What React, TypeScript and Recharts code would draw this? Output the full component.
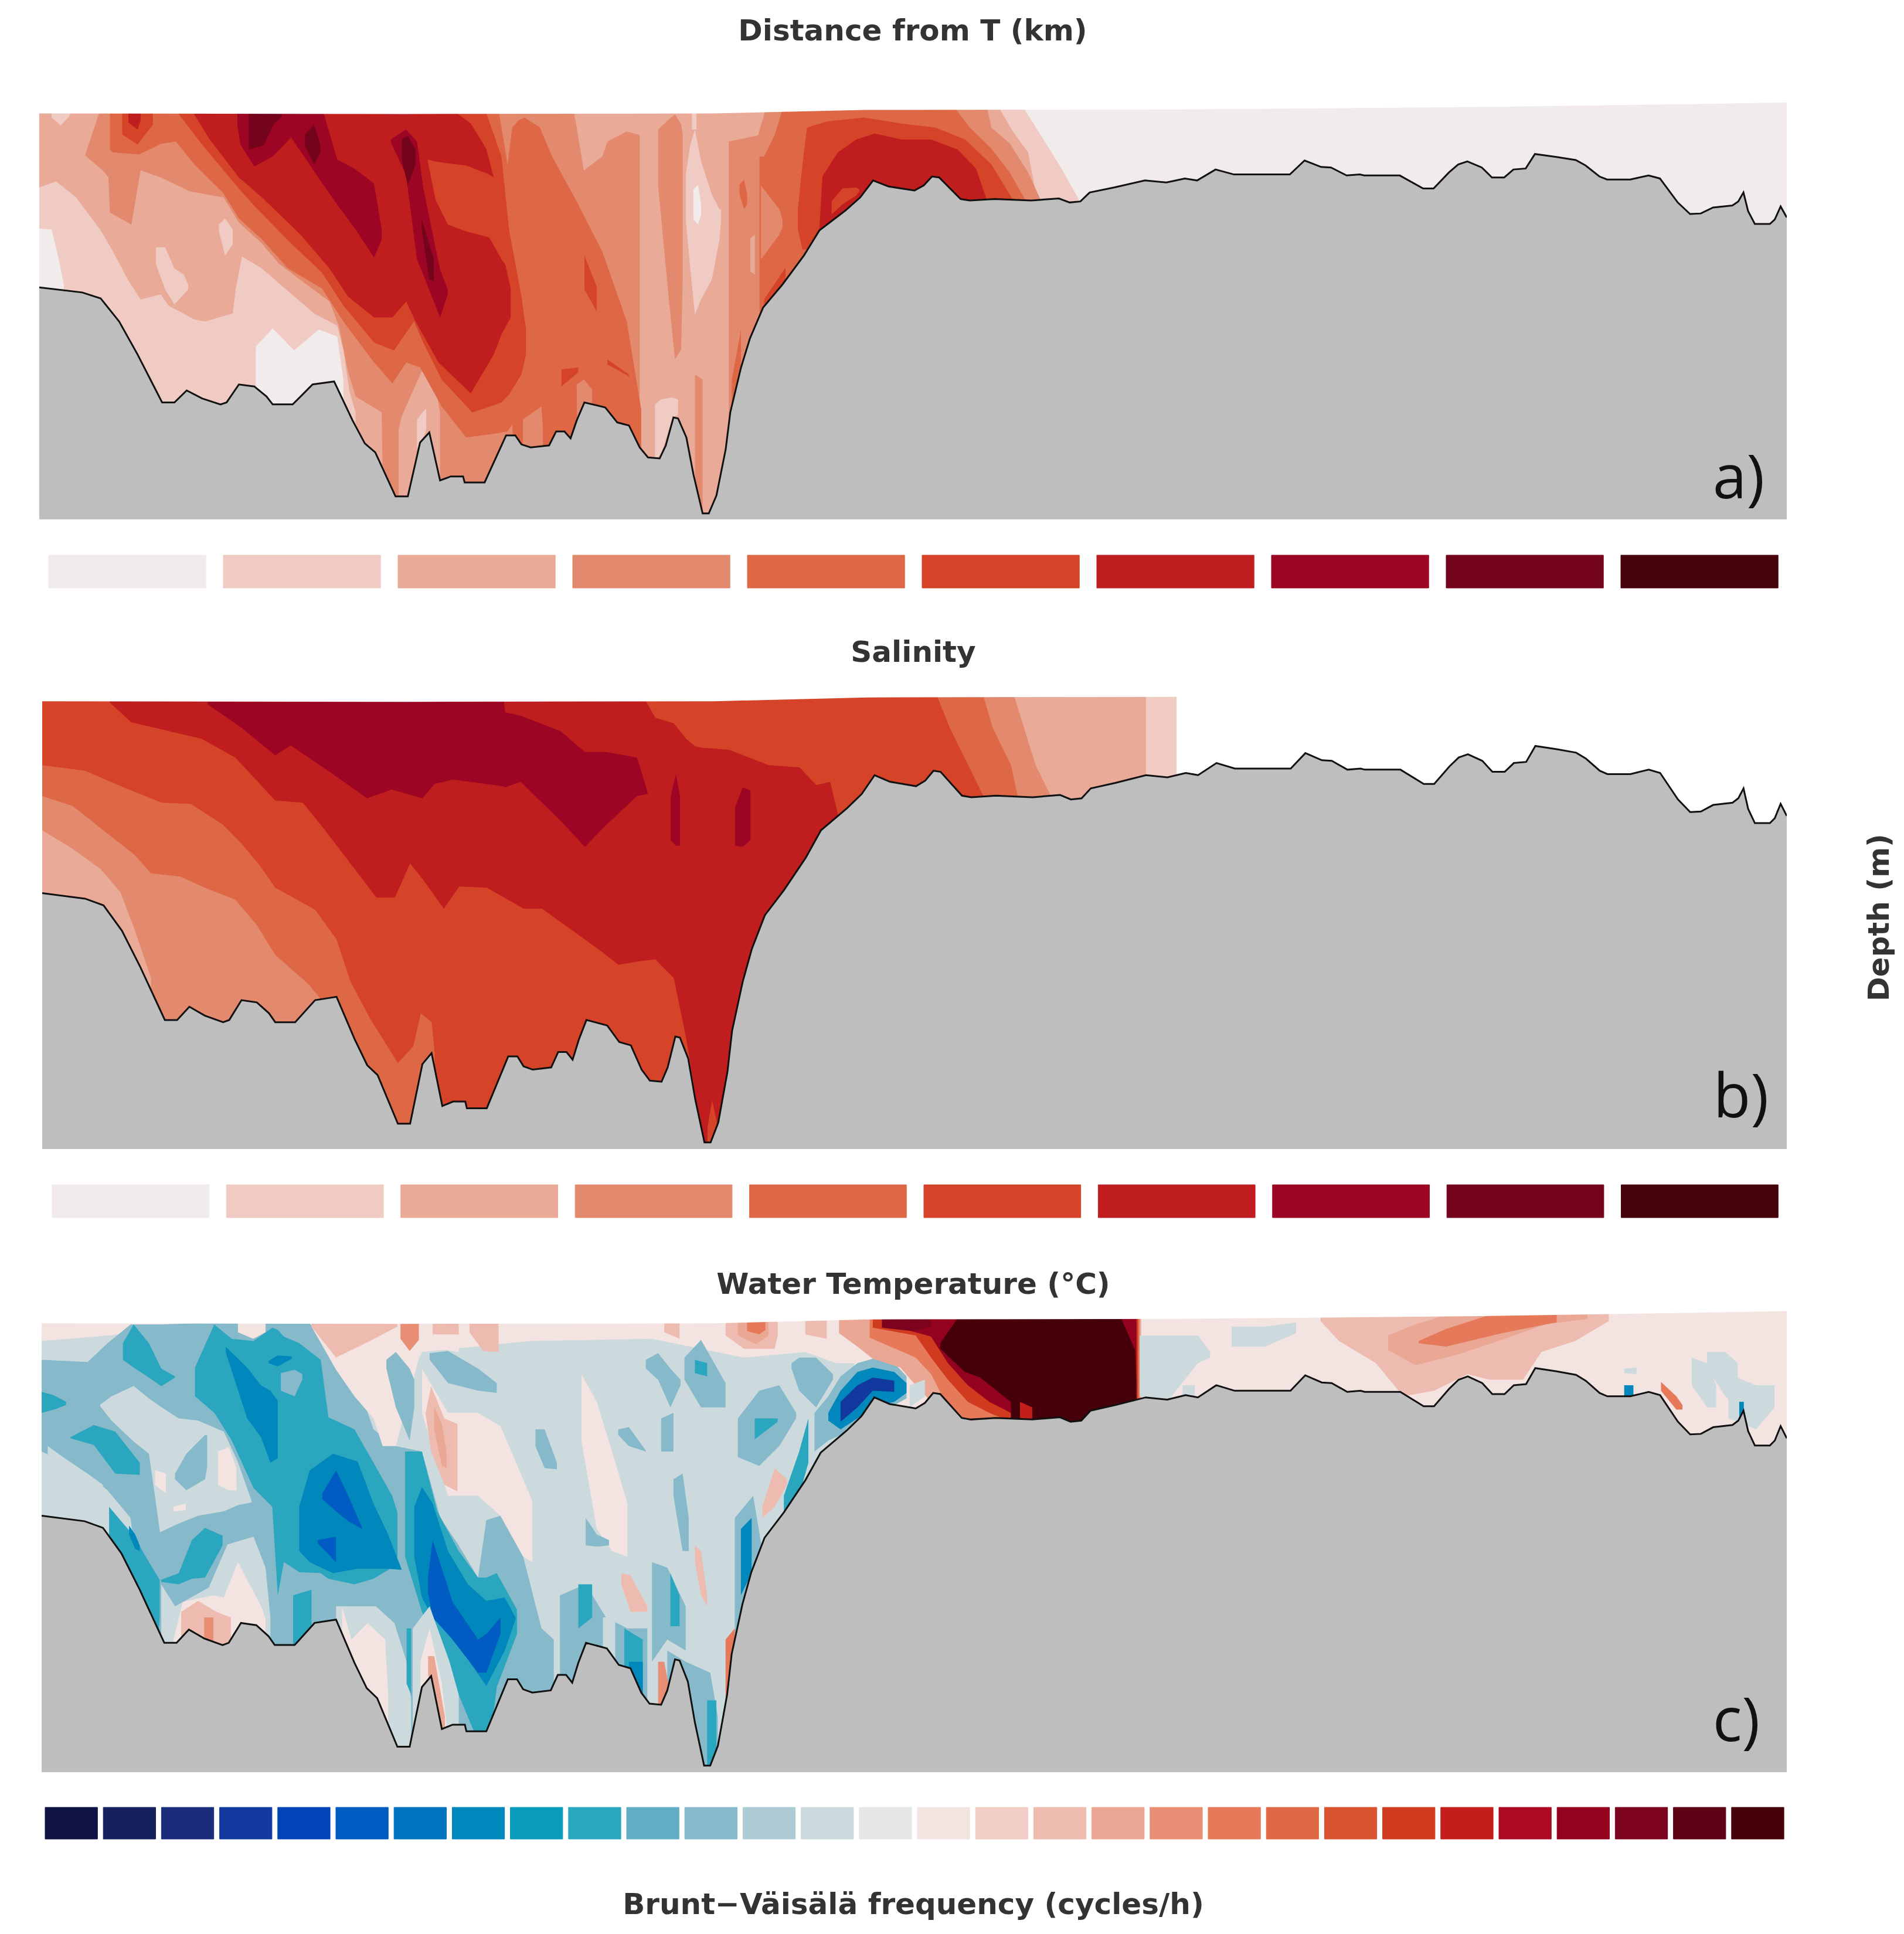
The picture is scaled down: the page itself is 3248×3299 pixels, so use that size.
import { Area, Bar, Cell, ComposedChart, Line, XAxis, YAxis } from 'recharts'

const FIG_W = 3248
const FIG_H = 3299
const PLOT_RIGHT = 3048
const KM_MAX = 56.9
const DEPTH_TOP = 2.1
const FONT = '"DejaVu Sans", sans-serif'
const INK = '#333333'
const FRAME = '#808080'
const SEABED = '#bebebe'

const KM_TICKS = [50, 40, 30, 20, 10, 0]
const DEPTH_TICKS = [0, -10, -20, -30, -40]

// section top (km, m)
const surface = [[56.9, 0.6], [45, 0.55], [35, 0.6], [30, 0.95], [20, 1.0], [10, 1.25], [3, 1.55], [0, 1.7]]

// seabed along the section (km, m)
const bathymetry = [
  [56.9, -16.8], [55.5, -17.3], [54.9, -17.9], [54.3, -20.2], [53.7, -23.5], [52.9, -28.3], [52.5, -28.3], [52.1, -27.1],
  [51.6, -27.9], [51, -28.5], [50.8, -28.3], [50.4, -26.5], [49.9, -26.7], [49.5, -27.7], [49.3, -28.5], [48.65, -28.5],
  [48, -26.5], [47.3, -26.2], [46.7, -30.1], [46.3, -32.4], [45.96, -33.3], [45.3, -37.7], [44.9, -37.7], [44.5, -32.3],
  [44.2, -31.3], [43.85, -36.1], [43.5, -35.7], [43.1, -35.7], [43.05, -36.3], [42.4, -36.3], [41.7, -31.6], [41.4, -31.6],
  [41.2, -32.5], [40.9, -32.8], [40.3, -32.6], [40.07, -31.2], [39.8, -31.2], [39.6, -31.9], [39.4, -30.1], [39.15, -28.3],
  [38.47, -28.8], [38.08, -30.3], [37.7, -30.6], [37.35, -32.8], [37.08, -33.8], [36.7, -33.9], [36.5, -32.6], [36.25, -29.8],
  [36.1, -29.9], [35.83, -31.8], [35.6, -35.5], [35.3, -39.4], [35.1, -39.4], [34.85, -37.6], [34.55, -33], [34.4, -29.3],
  [34.05, -24.8], [33.76, -21.9], [33.33, -18.8], [32.7, -16.5], [32, -13.6], [31.5, -11.1], [30.65, -9.1], [30.17, -7.8],
  [29.75, -6.1], [29.25, -6.7], [28.4, -7.1], [28.1, -6.6], [27.83, -5.7], [27.6, -5.8], [26.9, -7.96], [26.6, -8.1],
  [25.8, -7.96], [24.6, -8.1], [23.7, -7.9], [23.35, -8.3], [23, -8.2], [22.7, -7.3], [21.9, -6.8], [20.9, -6.1],
  [20.2, -6.3], [19.6, -5.9], [19.2, -6.1], [18.6, -5], [18, -5.5], [17, -5.5], [16.18, -5.5], [15.7, -4.1],
  [15.16, -4.75], [14.84, -4.8], [14.33, -5.6], [13.9, -5.5], [13.76, -5.6], [12.6, -5.6], [11.84, -6.9], [11.5, -6.9],
  [11, -5.3], [10.7, -4.5], [10.4, -4.2], [9.93, -4.8], [9.6, -5.8], [9.2, -5.8], [8.9, -5], [8.5, -4.9],
  [8.2, -3.45], [7.5, -3.75], [6.87, -4.06], [6.55, -4.6], [6.1, -5.7], [5.85, -6], [5.1, -6], [4.5, -5.6],
  [4.13, -5.9], [3.55, -8.3], [3.15, -9.45], [2.8, -9.4], [2.4, -8.8], [1.77, -8.6], [1.58, -8.2], [1.41, -7.3],
  [1.26, -9.15], [1.04, -10.45], [0.55, -10.45], [0.39, -10], [0.2, -8.7], [0, -9.8],
]

// colour steps of the two colour bars
const AMP = ['#f1eceb', '#efcbc4', '#e9aa98', '#e38a6e', '#de6846', '#d54428', '#c01d1e', '#9c0524', '#74041c', '#46030a']
const BALANCE = [
  '#0e1344', '#15205c', '#1a2d7a', '#123a9e', '#0044b8', '#005bc2', '#0073bf', '#0087bb', '#0a9abc', '#2aa6bf',
  '#63adc4', '#86b9ca', '#adcbd4', '#ccdade', '#e6e6e6', '#f3e4e1', '#f0cdc6', '#eebbb0', '#eaa794', '#e88e74',
  '#e6795a', '#df6945', '#d8532f', '#d03a1e', '#c21f1c', '#ac0a22', '#94021f', '#7c021d', '#600215', '#46000a',
]

const salinityBins = [0.1, 0.3, 0.5, 0.7, 0.9, 1.1, 1.3, 1.5, 1.7, 1.9]
const temperatureBins = [0.05, 0.15, 0.25, 0.35, 0.45, 0.55, 0.65, 0.75, 0.85, 0.95]
const buoyancyBins = [
  -14.5, -13.5, -12.5, -11.5, -10.5, -9.5, -8.5, -7.5, -6.5, -5.5, -4.5, -3.5, -2.5, -1.5, -0.5,
  0.5, 1.5, 2.5, 3.5, 4.5, 5.5, 6.5, 7.5, 8.5, 9.5, 10.5, 11.5, 12.5, 13.5, 14.5,
]

// Contour regions as [km, upper depth, lower depth]. Painted in order, seabed and air get masked afterwards.
const salBase = [[56.9, 2, -40], [23, 2, -40]]
const salL1Right = [[25.6, 2, 0.9], [25.2, 2, -1.2], [24.7, 2, -3.3], [24.4, 2, -8.3], [24.3, 2, -40], [0, 2, -40]]
const salL0Right = [[24.8, 2, 0.9], [24.2, 2, -2], [23.6, 2, -5], [23, 2, -8.3], [22.8, 2, -40], [0, 2, -40]]
const salL1Left = [
  [56.9, -6.8, -40], [56.35, -6.2, -40], [55.7, -7.8, -40], [54.9, -11.1, -40], [54.5, -13.2, -40], [54, -16.1, -40],
  [53.6, -18, -40], [52.94, -17.5, -40], [52.7, -18.6, -40], [51.85, -20, -40], [51.5, -20.2, -40], [50.6, -19.4, -40],
  [50.5, -16.9, -40], [50.3, -13.7, -40], [49.65, -14.9, -40], [48.9, -16.9, -40], [47.95, -19.4, -40], [47.2, -20.6, -40],
  [47, -23, -40], [46.8, -27.2, -40], [46.6, -29.3, -40],
]
const salL0Corner = [[56.9, -10.9, -17], [56.5, -11, -17], [56.3, -13.5, -17], [56.1, -16.5, -17]]
const salL0Pool = [[49.85, -22.7, -40], [49.3, -20.9, -40], [48.6, -23.1, -40], [47.8, -21, -40], [47.2, -21.7, -40], [47, -26, -40]]
const salL1PatchA = [[53.1, -12.8, -14.5], [52.8, -12.8, -17], [52.5, -14.9, -18.5], [52.2, -15.5, -17.5], [52.05, -16.5, -17]]
const salL1PatchB = [[51.05, -10.5, -11.2], [50.85, -9.9, -13.6], [50.6, -11, -12.5]]
const salL1PatchC = [[56.5, 2, 0.2], [56.2, 2, -0.6], [55.9, 2, 0.4]]
const salL3Main = [
  [55.4, -3.5, -3.6], [54.8, 2, -5.2], [54.65, 2, -5.8], [54.6, 2, -9.3], [53.9, 2, -10.5], [53.6, 2, -5.1], [52.94, 2, -5.8],
  [52, 2, -7.2], [50.9, 2, -7.8], [50.4, 2, -10.3], [49.65, 2, -12.4], [49.1, 2, -14.4], [48.55, 2, -15.7], [47.45, 2, -18.2],
  [47.15, 2, -20.6], [46.85, 2, -25.2], [46.6, 2, -27.7], [45.75, 2, -29.3], [45.7, 2, -40], [37.35, 2, -40],
]
const salL3Column = [[36.75, -1, -6.6], [36.4, 0, -18], [36.2, 0.5, -24], [36, -0.5, -23], [35.95, -1.5, -16]]
const salL2Spike = [[45.2, -31, -40], [45.1, -29.7, -40], [44.45, -25.2, -40], [44.1, -25.2, -40], [43.85, -29.3, -40]]
const salL1Spike = [[44.6, -30, -33], [44.35, -29, -31.5], [44.3, -29, -31]]
const salL4Main = [
  [54.6, 2, -3], [54.5, 2, -3.3], [53.65, 2, -3.5], [52.94, 2, -2.45], [52.45, 2, -2.2], [51.85, 2, -4.5], [50.9, 2, -7.4],
  [50.4, 2, -9.9], [49.65, 2, -12], [48.8, 2, -14.9], [47.7, 2, -16.9], [47, 2, -20.2], [46, 2, -24.3], [45.4, 2, -26.4],
  [44.95, 2, -24.3], [44.5, 2, -24.8], [43.8, 2, -28.7], [43, 2, -31.8], [42, 2, -31.4], [41.65, -4.5, -31.2], [41.5, -0.8, -30.5],
  [41.3, -0.1, -40], [41.1, 0.2, -40], [40.6, -0.8, -40], [40.2, -3.7, -40], [39.4, -8.2, -40], [38.57, -13.2, -40],
  [37.77, -20.2, -40], [37.3, -29, -40],
]
const salL2Cap = [[39.48, 2, 0.6], [39.17, 2, -5.1], [38.57, 2, -3.7], [38.4, 2, -2.2], [37.77, 2, -1.2], [37.3, 2, -1.6]]
const salL3Floor = [[41.15, -30, -40], [40.55, -28.7, -40], [40.5, -31, -40]]
const salL3Knob = [[39.4, -26.5, -40], [39.17, -26, -40], [38.9, -27, -40]]
const salL5Main = [
  [52.35, 2, 0.5], [51.6, 2, -2.5], [50.6, 2, -6.2], [49.9, 2, -8.65], [48.7, 2, -12.4], [47.7, 2, -15.3], [47, 2, -18.6],
  [46, 2, -22.3], [45.35, 2, -23.1], [44.7, 2, -20.2], [44.4, 2, -22.3], [43.8, 2, -26], [42.8, 2, -29.3], [42.5, 2, -29],
  [41.85, -3.7, -28.3], [41.6, -11.1, -27.5], [41.2, -17.7, -25.5], [41.05, -21, -23.5],
]
const salL5Dot = [[54.2, 2, -1.5], [53.7, 2, -2.5], [53.2, 2, -0.5]]
const salL6Dot = [[54, 2, -0.3], [53.7, 2, -1], [53.6, 2, -0.1]]
const salL6Main = [
  [51.85, 2, 0.5], [51.35, 2, -2], [50.4, 2, -5.8], [49.65, 2, -7.8], [48.4, 2, -11.5], [47.45, 2, -14.9], [46.85, 2, -17.7],
  [46, 2, -19.8], [45.4, 2, -19.8], [44.95, 2, -18.2], [44.65, 2, -20.2], [43.9, 2, -24.3], [42.85, -0.4, -27.4],
  [42.35, -2.9, -24.8], [42.1, -5.8, -23.5], [41.85, -12.8, -21.5], [41.55, -16.9, -19.8],
]
const salL5Wedge = [[44.25, -4, -4.2], [44, -4.2, -8], [43.6, -4.4, -10.5], [43, -4.6, -11.2], [42.25, -5.5, -11.8], [42.1, -5.8, -12.6], [41.85, -6, -14], [41.6, -11.1, -15], [41.5, -15, -16.5]]
const salL7Lobe = [
  [50.45, 2, -0.5], [50.35, 2, -2.5], [49.9, 2, -4.7], [49.3, 2, -3.7], [48.7, 2, -1.8], [48.1, 2, -4.5], [47.77, 2, -6],
  [47.2, -4, -8.5], [46.6, -5, -11], [46, -6.4, -13.8], [45.75, -11, -12],
]
const salL7Stripe = [[45.45, -2, -2.3], [44.96, -1, -5.5], [44.6, -2.2, -14], [44.4, -6.8, -15.5], [43.85, -15, -19.8], [43.6, -17, -17.5]]
const salL8Top = [[50.08, 2, -3], [49.6, 2, -2.6], [49.25, 2, -0.4], [49, 2, 0.3]]
const salL8Small = [[48.25, -1.5, -2.6], [47.95, -0.5, -4.5], [47.75, -2.5, -3.3]]
const salL8StripeA = [[45.1, -2, -4], [44.9, -1.6, -6.6], [44.65, -3, -4.5]]
const salL8StripeB = [[44.45, -9.9, -11], [44.2, -12.5, -16], [44.05, -14, -16.2]]
const salL5BitA = [[39.15, -13.6, -17], [38.75, -16.7, -19.2]]
const salL5BitB = [[39.9, -25, -26.7], [39.35, -24.8, -25.3]]
const salL5BitC = [[38.4, -24, -24.5], [37.7, -25.5, -25.7]]
const salL1Core = [[35.85, -5.5, -10], [35.7, -2.5, -15], [35.55, -1, -19.5], [35.35, -4.2, -18], [35, -7.5, -16], [34.75, -9, -12], [34.7, -9, -10]]
const salL1Tail = [[35.65, 2, -1], [35.5, 2, -1]]
const salL0Core = [[35.6, -7, -10], [35.45, -6.5, -10.5], [35.35, -8.5, -9.5]]
const salL1Floor = [[36.85, -28.5, -34], [36.65, -28, -33.5], [36.3, -27.8, -30], [36.1, -28, -29.5]]
const salL3Floor2 = [[35.55, -25.5, -40], [35.3, -26, -40]]
const salL3Sill = [[34.45, -2.2, -40], [33.5, -1.6, -40], [33.15, 2, -40], [26.1, 2, -40], [25.9, -0.8, -40], [25.3, -2.4, -40], [24.7, -5.3, -40], [24.3, -8, -40]]
const salL4Sill = [[33.45, -3.7, -40], [33.3, -3.7, -40], [32.95, -1.5, -40], [32.6, 2, -40], [27.3, 2, -40], [26.6, -0.8, -40], [25.9, -2.9, -40], [25.3, -5.3, -40], [24.8, -8, -40]]
const salL3Notch = [[33.4, -6.6, -14], [32.8, -9, -11.5], [32.7, -10, -10.8]]
const salL5Flank = [[33.3, -18, -18.5], [32.6, -14.8, -16.5]]
const salL5Sill = [[32.2, -9, -11], [32.05, -4.5, -13], [31.9, -0.8, -13], [31.26, -0.2, -40], [30.05, 0.2, -40], [28.83, -0.4, -40], [27.73, -0.8, -40], [26.75, -2, -40], [25.9, -4.5, -40], [25.2, -8, -40]]
const salL6Sill = [[31.5, -11, -40], [31.4, -5.7, -40], [30.9, -3.3, -40], [30.3, -2, -40], [29.7, -1.4, -40], [28.83, -2, -40], [27.85, -2, -40], [27, -3, -40], [26.4, -4.9, -40], [26.05, -8, -40]]
const salL5Hole = [[31.1, -8.2, -9.5], [30.75, -6.9, -8.5], [30.3, -6.8, -7.6], [30.2, -7, -7.2]]
const salL2Pocket = [[33.75, -11.9, -15.2], [33.6, -11.5, -15.5]]
const salL4Fleck = [[34.1, -6.5, -7.5], [33.95, -6, -9], [33.85, -7.5, -8.5]]
const salL4Sliver = [[34.35, -26, -40], [34.05, -21, -24]]

const salinityLayers = [
  [salBase, 2], [salL1Right, 1], [salL0Right, 0], [salL1Left, 1], [salL0Corner, 0], [salL0Pool, 0], [salL1PatchA, 1], [salL1PatchB, 1],
  [salL1PatchC, 1], [salL3Main, 3], [salL3Column, 3], [salL2Spike, 2], [salL1Spike, 1], [salL4Main, 4], [salL2Cap, 2], [salL3Floor, 3],
  [salL3Knob, 3], [salL5Main, 5], [salL5Dot, 5], [salL6Dot, 6], [salL6Main, 6], [salL5Wedge, 5], [salL7Lobe, 7], [salL7Stripe, 7],
  [salL8Top, 8], [salL8Small, 8], [salL8StripeA, 8], [salL8StripeB, 8], [salL5BitA, 5], [salL5BitB, 5], [salL5BitC, 5], [salL1Core, 1],
  [salL1Tail, 1], [salL0Core, 0], [salL1Floor, 1], [salL3Floor2, 3], [salL3Sill, 3], [salL4Sill, 4], [salL3Notch, 3], [salL5Flank, 5],
  [salL5Sill, 5], [salL6Sill, 6], [salL5Hole, 5], [salL2Pocket, 2], [salL4Fleck, 4], [salL4Sliver, 4],
]

const tmpL1 = [[56.9, 2, -40], [19.9, 2, -40]]
const tmpL2 = [[56.9, 2, -40], [20.9, 2, -40]]
const tmpL3 = [[56.9, 2, -40], [25.3, 2, -40], [24.5, -5.2, -40], [24, -8, -40]]
const tmpL4 = [[56.9, 2, -40], [26.3, 2, -40], [25.9, -1.8, -40], [25.3, -5.2, -40], [25.07, -8.2, -40]]
const tmpL5 = [[56.9, 2, -40], [27.85, 2, -40], [27.3, -1.8, -40], [26.7, -5.2, -40], [26.2, -8, -40]]
const tmpL4Low = [
  [56.9, -5.2, -40], [55.5, -5.7, -40], [54.25, -7.2, -40], [53, -8.6, -40], [52.05, -8.7, -40], [51, -10.6, -40], [50.4, -12.3, -40],
  [49.8, -14.3, -40], [49.3, -16.3, -40], [48, -18.3, -40], [47.3, -21, -40], [46.85, -24.8, -40], [46.2, -28.2, -40], [45.3, -32.2, -40],
  [44.8, -30.7, -40], [44.55, -27.7, -40], [44.2, -28.5, -40], [44.1, -31.2, -40],
]
const tmpL3Low = [
  [56.9, -8, -40], [55.9, -8.9, -40], [55, -10.9, -40], [53.9, -13.3, -40], [53.35, -15, -40], [52.4, -15.3, -40], [51.6, -16.3, -40],
  [50.6, -17.4, -40], [49.9, -19.7, -40], [49.3, -22.4, -40], [48.6, -24.1, -40], [48.2, -25.1, -40], [47.85, -26.3, -40],
]
const tmpL2Low = [[56.9, -11.1, -40], [55.9, -12.8, -40], [55, -14.6, -40], [54.35, -16.7, -40], [53.9, -20, -40], [53.35, -24.5, -40]]
const tmpL6 = [
  [54.7, 2, 0.5], [54, 2, -1.3], [53, 2, -1.95], [51.7, 2, -2.8], [50.6, 2, -4.5], [49.3, 2, -8.4], [48.4, 2, -8.6], [47.7, 2, -11],
  [46.6, 2, -15], [46, 2, -17.2], [45.4, 2, -17.2], [44.9, 2, -14.1], [44.5, 2, -15.5], [43.8, 2, -18.2], [43.3, 2, -16.2], [42.4, 2, -16.3],
  [41.2, 2, -18.2], [40.6, 2, -18.2], [39.6, 2, -20.2], [38.7, 2, -22], [38.1, 2, -23.3], [37.5, 2, -23], [36.9, -0.9, -22.8],
  [36.3, -1.4, -24.5], [35.9, -2.8, -29.9], [35.6, -3.5, -35], [35.4, -3.6, -40], [34.5, -3.8, -40], [33.2, -5.2, -40], [32.2, -5.4, -40],
  [31.65, -7, -40], [31.2, -6.7, -40], [30.95, -9.6, -40],
]
const tmpL7 = [
  [51.5, 2, 0.3], [50.4, 2, -1.8], [49.3, 2, -4.3], [48.8, 2, -3.4], [47.5, 2, -5.85], [46.3, 2, -8.2], [45.5, 2, -7.4], [44.5, 2, -8.2],
  [44.1, 2, -6.9], [43.5, 2, -6.5], [41.9, 2, -7.1], [41.8, -0.4, -7.2], [41.3, -0.7, -6.7], [40, -2.1, -10.2], [39.2, -4, -12.6],
  [38.5, -4, -10.6], [37.5, -4.5, -8], [37.15, -7.7, -7.8],
]
const tmpL7StripeA = [[36.4, -8, -12], [36.23, -6, -12.5], [36.1, -8, -12.5]]
const tmpL7StripeB = [[34.3, -9, -12.5], [34.05, -7.2, -12.6], [33.8, -7.5, -12]]
const tmpL5Pit = [[35.2, -38, -40], [35.05, -35.6, -40], [34.9, -37.5, -40]]

const temperatureLayers = [
  [tmpL1, 1], [tmpL2, 2], [tmpL3, 3], [tmpL4, 4], [tmpL5, 5], [tmpL4Low, 4], [tmpL3Low, 3], [tmpL2Low, 2],
  [tmpL6, 6], [tmpL7, 7], [tmpL7StripeA, 7], [tmpL7StripeB, 7], [tmpL5Pit, 5],
]

const bvPaleBase = [[56.9, 2, -40], [0, 2, -40]]
const bvHaze = [
  [56.9, -1, -40], [50, 0.6, -40], [48, -0.2, -40], [47, -2, -40], [45, -5, -40], [44.5, -2, -40], [41, -1, -40], [37, -0.8, -40],
  [34, -2.5, -40], [32, -2, -40], [31, -3, -40], [30.4, -3, -40],
]
const bvBlueWide = [
  [56.9, -2.7, -11], [55.4, -2.9, -13], [54.75, -1.2, -14.5], [54, 0.5, -17], [53, 0.5, -40], [48.3, 1, -40], [47.55, -1.2, -40],
  [46.7, -4, -40], [46.08, -9, -40], [45.35, -10.5, -40], [44.5, -11, -40], [43.9, -17, -40], [43.3, -19.5, -40], [42.67, -22.4, -40],
  [42.4, -17.2, -40], [41.94, -16.8, -40], [41.2, -20.5, -40], [40.6, -27, -40], [40.2, -28, -40],
]
const bvHoleLeft = [
  [54.99, -6.75, -6.9], [54.62, -6, -8.2], [53.9, -5.07, -10.1], [53.4, -6.2, -11.2], [53.04, -6.9, -18.3], [52.43, -8, -17.5],
  [51.8, -8.2, -16.8], [50.96, -9.2, -16.4], [50.5, -11.95, -15.85], [50.05, -15.5, -15.6],
]
const bvInHole = [[52.55, -13, -13.5], [52.18, -11.2, -14.5], [51.57, -9.5, -13.5], [51.5, -9.5, -12.3]]
const bvPinkA = [[51.15, -11, -14], [50.8, -10.6, -14.5], [50.55, -12.5, -14.5]]
const bvPinkB = [[53.2, -12.7, -14], [52.85, -13, -14.8]]
const bvPinkC = [[52.6, -16, -16.4], [52.2, -15.7, -16.3]]
const bvCornerPale = [[56.7, -10.5, -14], [56.2, -11.5, -17], [55.3, -13.2, -17.5], [54.9, -14, -16]]
const bvStrongA = [[54.25, -1.2, -2.7], [53.9, 0.5, -3.4], [53.4, -1.2, -4.3], [53, -3.5, -5.1], [52.55, -4.2, -4.3]]
const bvStrongB = [[56.9, -5.6, -7.5], [56.5, -5.9, -7.2], [56.1, -6.5, -6.8]]
const bvStrongC = [[55.96, -9.7, -9.8], [55.2, -8.6, -10.4], [54.5, -9.2, -13], [53.7, -12, -13.1]]
const bvStrongEdge = [[54.7, -16, -40], [54.3, -17.3, -40], [53.9, -18.6, -40], [53.4, -21, -40], [53.05, -22.6, -26]]
const bvDeepFleck = [[54.05, -17.7, -18.5], [53.85, -18.5, -19.8], [53.7, -19.5, -20]]
const bvStrongD = [[53, -22.6, -22.8], [52.43, -22, -23], [52, -19, -22.5], [51.57, -17.9, -22.4], [51, -18.6, -19.5]]
const bvLowHaze = [[53, -23, -40], [52.55, -25, -40], [51.45, -23.3, -40], [50.84, -19.4, -40], [49.99, -18.7, -40], [49.6, -21.5, -40], [49.44, -26, -40]]
const bvLowPale = [[52.6, -28, -40], [52.3, -24.6, -40], [51.3, -24, -40], [50.96, -24.2, -40], [50.5, -21, -40], [49.74, -25, -40], [49.6, -26.1, -28]]
const bvLowPink = [[52.35, -25.5, -40], [51.8, -24.5, -40], [51.2, -25.5, -40], [50.73, -26, -40]]
const bvLowCore = [[51.6, -26, -40], [51.3, -26, -40]]
const bvMidStrong = [
  [51.9, -3.4, -6], [51.27, 0.5, -7.5], [50.7, -0.8, -10], [49.99, -1, -14.3], [49.38, 0.2, -16], [49.2, 0, -24], [49, -0.6, -21],
  [48.5, -1.2, -21.9], [47.8, -2.7, -22], [47.55, -7.9, -22.5], [46.7, -9, -23], [46.08, -12, -22.5], [45.47, -15, -21.5], [45.3, -16.5, -20.5],
]
const bvMidStem = [[48.7, -24, -40], [48.1, -23.5, -40]]
const bvMidHole = [[49.1, -3.9, -5.5], [48.65, -3.6, -6], [48.4, -4, -4.5]]
const bvPaleTop = [[50.5, 2, -0.2], [50, 2, -0.8], [49.6, 2, -0.2]]
const bvDeepA = [[50.9, -1.5, -2], [50.2, -3.4, -8], [49.75, -5, -9.7], [49.44, -5.5, -12], [49.2, -6.4, -11.6]]
const bvDeepB = [[49.5, -2.8, -3], [49.2, -2.3, -3.3], [48.75, -2.4, -2.6]]
const bvDeepC = [[48.5, -16, -20], [48.16, -12.7, -21], [47.4, -11.2, -22], [46.6, -11.9, -21.6], [46.08, -15.7, -21.6], [45.6, -18.5, -21.6], [45.17, -21.6, -21.7]]
const bvCoreA = [[47.75, -14.8, -15.3], [47.3, -12.7, -16.4], [46.9, -15, -17.3], [46.45, -17.9, -18]]
const bvCoreB = [[47.9, -19, -19.3], [47.3, -18.7, -21]]
const bvHazeLow = [[47.3, -25, -40], [46.6, -25, -40], [46, -25, -40], [45.4, -26.5, -40], [45, -30, -40], [44.85, -33.5, -40]]
const bvPaleLow = [[47.1, -25, -40], [46.8, -28, -40], [46.27, -26.5, -40], [45.7, -28, -40], [45.6, -33, -40]]
const bvBandStrong = [[45.05, -11, -20.5], [44.5, -11, -25.5], [44, -16.4, -28.3], [43.3, -20, -33], [42.67, -22.4, -37.2], [42.4, -22.4, -40], [42.06, -22, -32.3], [41.4, -25.3, -27.5]]
const bvBandDeep = [[44.75, -16, -20.5], [44.5, -14.2, -24.2], [44.15, -15.7, -26], [43.65, -20, -27.5], [43, -23, -29.8], [42.4, -24.5, -32.2], [41.8, -24.2, -29], [41.45, -26, -26.2]]
const bvBandCore = [[44.3, -22.3, -23.8], [44.15, -19, -26], [43.5, -24.6, -28], [42.67, -28, -31], [42.4, -27.5, -31], [41.94, -26, -27.5]]
const bvThinStrong = [[45, -27, -32], [44.85, -27, -33]]
const bvSpikeHaze = [[44.8, -27, -40], [44.25, -25, -40], [43.6, -30, -40], [43.3, -33, -40]]
const bvSpikePale = [[44.55, -30, -40], [44.25, -27, -40], [43.85, -32, -40], [43.6, -38, -40]]
const bvSpikePink = [[44.3, -29.5, -31], [44.1, -29.5, -36], [43.75, -35, -37]]
const bvPaleCentre = [[44.5, -3.5, -7.5], [43.65, -7.5, -15], [42.67, -7.5, -15], [41.94, -8.7, -16.8], [41.2, -13.5, -20.5], [40.9, -15.5, -21]]
const bvPinkDiag = [[44.38, -7.5, -7.6], [44.2, -5.1, -11], [43.77, -8, -14], [43.34, -8.5, -14.6]]
const bvPinkDiagCore = [[44.1, -7, -9], [43.85, -8.5, -12.3], [43.7, -11, -12.5]]
const bvPaleUpper = [[48.1, 2, 0.3], [47.3, 2, -3.6], [46.7, 2, -6], [46.08, 2, -8], [45.78, 2, -10.5], [45.35, 2, -10.5], [44.5, 2, -1.5], [43.3, 2, -2]]
const bvPinkTop = [[48.1, 2, 0.3], [47.3, 2, -2.5], [46.2, 2, -1], [45.3, 2, 0.3]]
const bvBlueUpper = [[45.66, -2.7, -3.5], [45.35, -2, -7], [44.9, -3.5, -10], [44.75, -4.5, -7]]
const bvPeachTop = [[45.2, 2, -0.8], [44.9, 2, -1.9], [44.6, 2, -0.9]]
const bvPinkBitA = [[44.15, 2, -0.4], [43.3, 2, -0.4]]
const bvPinkBitB = [[42.95, 2, -0.2], [42.5, 2, -1.9], [42, 2, -2]]
const bvBlueBitA = [[44.25, -2.1, -2.7], [43.65, -1.9, -4.8], [42.67, -3.5, -5.5], [42.06, -4.8, -5.7]]
const bvBlueBitB = [[40.8, -9, -10.5], [40.5, -9, -12.5], [40.1, -12, -12.6]]
const bvBlueRight = [[40, -24, -40], [39.16, -23, -40], [38.5, -26, -40], [37.8, -27, -40], [37.15, -27, -40]]
const bvHazeStripe = [[38.6, -26, -40], [38.2, -26, -40]]
const bvStrongRight = [[37.9, -27, -34], [37.3, -28, -34]]
const bvDeepRight = [[37.75, -30, -34], [37.3, -30, -34]]
const bvStrongFlank = [[39.4, -23, -27], [38.95, -23, -26]]
const bvPaleLeftTall = [[39.3, -4, -10], [38.8, -6.5, -18], [38.3, -11, -20], [37.8, -15.7, -20.5]]
const bvPinkRight = [[38, -22, -23], [37.7, -22.2, -25.5], [37.15, -25, -25.5]]
const bvBlueC = [[37.2, -2.7, -3.5], [36.8, -2.1, -4.5], [36.4, -3.5, -7], [36.07, -4.5, -5]]
const bvBlueD = [[36.7, -8, -11], [36.3, -7.5, -11]]
const bvBlueE = [[38.1, -9, -9.5], [37.75, -8.8, -10.5], [37.2, -10.9, -11]]
const bvBlueF = [[39.16, -17, -19.5], [38.8, -18.5, -19.6], [38.4, -19, -19.5]]
const bvBlueG = [[35.94, -2.5, -4.5], [35.4, -0.9, -7], [34.6, -4.8, -7]]
const bvStrongG = [[35.6, -2.7, -3.9], [35.2, -3, -4.2]]
const bvBlueH = [[34.2, -8, -11.5], [33.5, -5.5, -12.3], [32.85, -5, -10.5], [32.3, -7.5, -8]]
const bvStrongH = [[33.65, -8, -9.9], [32.9, -8, -8.3]]
const bvBlueI = [[32.45, -3, -3.5], [32.2, -2.5, -5.5], [31.65, -2.5, -7], [31.1, -4, -4.5]]
const bvBlueJ = [[36.3, -13.5, -15], [36, -13, -20], [35.8, -17, -20]]
const bvBlueK = [[37, -21, -30], [36.5, -21.5, -28], [35.9, -25, -29]]
const bvStrongK = [[36.4, -22, -26.8], [36.1, -24, -26.8]]
const bvPeachPit = [[36.8, -30, -40], [36.6, -30, -40], [36.4, -33, -40]]
const bvBluePit = [[36.5, -29, -40], [35.9, -30, -40], [35.1, -31, -40], [34.85, -35, -40]]
const bvStrongPit = [[35.2, -33.5, -40], [34.9, -33.5, -40]]
const bvPinkStrip = [[35.6, -19.5, -21], [35.4, -20, -24], [35.2, -24, -25]]
const bvPeachWall = [[34.6, -28, -40], [34.3, -27, -40]]
const bvBlueWall = [[34.3, -17, -28], [33.7, -15, -24], [33.4, -20, -22]]
const bvDeepWall = [[34.1, -18, -24], [33.75, -17, -22]]
const bvStrongSlope = [[32.7, -15, -17], [32.2, -11, -15], [31.9, -8, -12]]
const bvPinkSlope = [[33.4, -16, -17], [33, -12.5, -16], [32.6, -13.5, -14]]
const bvCellHaze = [[31.7, -7.5, -11], [31.25, -6, -10], [30.85, -4.2, -9.5], [30.3, -3, -8.5], [29.8, -2.6, -7], [29.1, -3, -6.8], [28.7, -4.2, -6.2]]
const bvCellStrong = [[31.25, -7.5, -8.2], [30.85, -5.5, -9], [30.3, -3.8, -8], [29.8, -3.4, -7], [29.1, -3.8, -6.5], [28.7, -4.8, -5.7]]
const bvCellCore = [[30.85, -6.5, -8.3], [30.3, -5, -7], [29.8, -4.3, -5.5], [29.1, -4.6, -5.6]]
const bvCapOuter = [[34.6, 2, -0.5], [34, 2, -1.7], [33, 2, -1.7], [32.9, 2, -0.5]]
const bvCapMid = [[34.2, 2, -0.5], [33.6, 2, -1.3], [33.2, 2, -0.5]]
const bvCapCore = [[33.9, 2, -0.1], [33.5, 2, -0.4], [33.3, 2, 0]]
const bvCapSmall = [[32, 2, -0.4], [31.3, 2, -0.8]]
const bvCapThin = [[36.6, 2, -0.2], [36.1, 2, -0.8]]
const bvCloudPink = [[30.9, 2, -0.3], [30.3, 2, -1.5], [29.8, 2, -2.6], [28.9, 2, -3.4], [28.4, 2, -5], [27.9, 2, -6.5], [27.4, 2, -40], [21.05, 2, -40]]
const bvCloudSalmon = [[29.9, 2, -0.7], [28.4, 2, -2.5], [27.9, 2, -4], [27.35, 2, -7], [26.8, 2, -40], [21.1, 2, -40]]
const bvCloudRed = [[29.8, 2, 0.2], [28.4, 2, -0.5], [27.9, 2, -2.5], [27.35, 2, -4.5], [26.7, 2, -6.5], [26, 2, -7.5], [25.3, 2, -8.3], [21.15, 2, -40]]
const bvCloudCrimson = [[28.8, 2, 0.1], [27.9, 2, -0.6], [27.35, 2, -3], [26.7, 2, -5], [26, 2, -6.5], [25.3, 2, -7.5], [25, 2, -40], [21.2, 2, -40]]
const bvCloudTop = [[29.5, 2, 0.2], [28.5, 2, -0.1], [27.9, 2, 0.3]]
const bvCloudDark = [[27.6, -1.2, -1.7], [26.8, 2, -3.8], [26.3, 2, -4.3], [25.3, 2, -6.5], [25.07, 2, -40], [23, 2, -40], [21.85, 2, -40], [21.25, -1.8, -40], [21.2, -5, -6.2]]
const bvSillHaze = [[28.6, -5, -7], [28.1, -4.5, -6]]
const bvRedFleck = [[25, -6.5, -9], [24.6, -7, -9]]
const bvHazeA = [[21.1, -0.5, -6], [20.2, -0.5, -6.5], [19.2, -0.5, -3], [18.8, -2, -2.5]]
const bvHazeB = [[18.1, 0.3, -1.5], [17, 0.3, -1.5], [16, 0.7, -0.3]]
const bvWarmPink = [[15.2, 1.7, 0.8], [14.6, 1.7, -1], [13.4, 1.7, -3], [12.5, 1.7, -6], [11.5, 1.7, -5.5], [10.4, 1.7, -4], [9.7, 1.7, -4.5], [8.6, 1.7, -4.5], [8, 1.7, -2], [6.9, 1.7, -1], [5.8, 1.7, 0.8]]
const bvWarmMid = [[13, -0.5, -1.8], [12.1, 0.5, -3.2], [10.7, 1.7, -2.2], [9.4, 1.7, -1], [7.9, 1.7, 0.5], [6.5, 1.7, 1]]
const bvWarmCore = [[12, -1, -1.2], [11.1, 0.1, -1.5], [9.3, 1.7, -0.3], [7.5, 1.7, 0.7]]
const bvSpeckA = [[3.1, -2.5, -5], [2.6, -3, -7], [2.3, -5, -7]]
const bvSpeckB = [[2.6, -2, -3.5], [2, -2, -6], [1.6, -3, -7]]
const bvSpeckC = [[1.9, -4, -8], [1, -5, -9], [0.4, -5, -7]]
const bvSpeckD = [[5.3, -3.5, -3.9], [4.9, -3.4, -4]]
const bvSpotA = [[5.3, -5, -6], [5, -5, -6]]
const bvSpotB = [[1.55, -6.5, -8.5], [1.4, -6.5, -8.5]]
const bvSpeckRed = [[4.1, -4.7, -5.5], [3.6, -6, -7.2], [3.4, -6.8, -7.2]]
const bvEdgeN = [[19.7, -5, -7], [19.3, -5, -7]]

const buoyancyLayers = [
  [bvPaleBase, 15], [bvHaze, 13], [bvBlueWide, 11], [bvHoleLeft, 13], [bvInHole, 11], [bvPinkA, 15], [bvPinkB, 15], [bvPinkC, 15],
  [bvCornerPale, 13], [bvStrongA, 9], [bvStrongB, 9], [bvStrongC, 9], [bvStrongEdge, 9], [bvDeepFleck, 7], [bvStrongD, 9],
  [bvLowHaze, 13], [bvLowPale, 15], [bvLowPink, 17], [bvLowCore, 19], [bvMidStrong, 9], [bvMidStem, 9], [bvMidHole, 11], [bvPaleTop, 15],
  [bvDeepA, 7], [bvDeepB, 7], [bvDeepC, 7], [bvCoreA, 5], [bvCoreB, 5], [bvHazeLow, 13], [bvPaleLow, 15], [bvBandStrong, 9],
  [bvBandDeep, 7], [bvBandCore, 5], [bvThinStrong, 9], [bvSpikeHaze, 13], [bvSpikePale, 15], [bvSpikePink, 18], [bvPaleCentre, 15],
  [bvPinkDiag, 17], [bvPinkDiagCore, 18], [bvPaleUpper, 15], [bvPinkTop, 17], [bvBlueUpper, 11], [bvPeachTop, 19], [bvPinkBitA, 17],
  [bvPinkBitB, 17], [bvBlueBitA, 11], [bvBlueBitB, 11], [bvBlueRight, 11], [bvHazeStripe, 13], [bvStrongRight, 9], [bvDeepRight, 7],
  [bvStrongFlank, 9], [bvPaleLeftTall, 15], [bvPinkRight, 17], [bvBlueC, 11], [bvBlueD, 11], [bvBlueE, 11], [bvBlueF, 11], [bvBlueG, 11],
  [bvStrongG, 9], [bvBlueH, 11], [bvStrongH, 9], [bvBlueI, 11], [bvBlueJ, 11], [bvBlueK, 11], [bvStrongK, 9], [bvBluePit, 11],
  [bvPeachPit, 19], [bvStrongPit, 9], [bvPinkStrip, 17], [bvBlueWall, 11], [bvDeepWall, 7], [bvPeachWall, 20], [bvStrongSlope, 9],
  [bvPinkSlope, 17], [bvCellHaze, 11], [bvCellStrong, 7], [bvCellCore, 3], [bvCapOuter, 17], [bvCapMid, 18], [bvCapCore, 20], [bvCapSmall, 17],
  [bvCapThin, 17], [bvCloudPink, 18], [bvCloudSalmon, 20], [bvCloudRed, 23], [bvCloudCrimson, 26], [bvCloudTop, 27], [bvCloudDark, 29],
  [bvSillHaze, 13], [bvRedFleck, 24], [bvHazeA, 13], [bvHazeB, 13], [bvWarmPink, 17], [bvWarmMid, 18], [bvWarmCore, 20], [bvSpeckA, 13],
  [bvSpeckB, 13], [bvSpeckC, 13], [bvSpeckD, 13], [bvSpotA, 7], [bvSpotB, 7], [bvSpeckRed, 20], [bvEdgeN, 13],
]

function bandRows(rows: number[][]) {
  return rows.map(([km, upper, lower]) => ({ km, band: [lower, upper] }))
}

const seabedRows = bathymetry.map(([km, depth]) => ({ km, depth, band: [-40, depth] }))
const airRows = surface.map(([km, depth]) => ({ km, band: [depth, DEPTH_TOP] }))

const minus = (v: number) => String(v).replace('-', '\u2212')

function Section({ plotLeft, plotTop, plotBottom, layers, palette, kmTicks, leftTicks, rightTicks }: any) {
  const top = plotTop - 110
  const height = plotBottom - top + 50
  const kmTop = (p: any) => (
    <g>
      <line x1={p.x} x2={p.x} y1={p.y} y2={p.y + 28} stroke={FRAME} strokeWidth={2} />
      <text x={p.x} y={p.y - 31} textAnchor="middle" fontSize={47} fontFamily={FONT} fill={INK}>{p.payload.value}</text>
    </g>
  )
  const kmBottom = (p: any) => <line x1={p.x} x2={p.x} y1={p.y} y2={p.y - 30} stroke={FRAME} strokeWidth={2} />
  const depthLeft = (p: any) => <line x1={p.x} x2={p.x + 30} y1={p.y} y2={p.y} stroke={FRAME} strokeWidth={2} />
  const depthRight = (p: any) => (
    <g>
      {p.payload.value !== -40 && <line x1={p.x} x2={p.x - 30} y1={p.y} y2={p.y} stroke={FRAME} strokeWidth={2} />}
      <text x={p.x + 22} y={p.y + 17} fontSize={47} fontFamily={FONT} fill={INK}>{minus(p.payload.value)}</text>
    </g>
  )
  return (
    <div style={{ position: 'absolute', left: 0, top }}>
      <ComposedChart
        width={FIG_W}
        height={height}
        margin={{ left: plotLeft, right: FIG_W - PLOT_RIGHT, top: plotTop - top, bottom: top + height - plotBottom }}
      >
        {layers.map(([rows, level]: any, i: number) => (
          <Area
            key={i}
            xAxisId="kmTop"
            yAxisId="depthRight"
            data={bandRows(rows)}
            dataKey="band"
            type="linear"
            fill={palette[level]}
            fillOpacity={1}
            stroke="none"
            dot={false}
            activeDot={false}
            isAnimationActive={false}
          />
        ))}
        <Area xAxisId="kmTop" yAxisId="depthRight" data={airRows} dataKey="band" type="linear" fill="#ffffff" fillOpacity={1} stroke="none" dot={false} activeDot={false} isAnimationActive={false} />
        <Area xAxisId="kmTop" yAxisId="depthRight" data={seabedRows} dataKey="band" type="linear" fill={SEABED} fillOpacity={1} stroke="none" dot={false} activeDot={false} isAnimationActive={false} />
        <Line xAxisId="kmTop" yAxisId="depthRight" data={seabedRows} dataKey="depth" type="linear" stroke="#111111" strokeWidth={3} dot={false} activeDot={false} isAnimationActive={false} />
        <XAxis
          xAxisId="kmTop"
          type="number"
          dataKey="km"
          orientation="top"
          reversed
          domain={[0, KM_MAX]}
          allowDataOverflow
          height={0}
          ticks={KM_TICKS}
          interval={0}
          tickSize={0}
          tickMargin={0}
          tickLine={false}
          tick={kmTicks ? kmTop : false}
          axisLine={{ stroke: FRAME, strokeWidth: 3 }}
        />
        <XAxis
          xAxisId="kmBottom"
          type="number"
          dataKey="km"
          orientation="bottom"
          reversed
          domain={[0, KM_MAX]}
          allowDataOverflow
          height={0}
          ticks={KM_TICKS}
          interval={0}
          tickSize={0}
          tickMargin={0}
          tickLine={false}
          tick={kmTicks ? kmBottom : false}
          axisLine={{ stroke: FRAME, strokeWidth: 3 }}
        />
        <YAxis
          yAxisId="depthLeft"
          type="number"
          orientation="left"
          domain={[-40, DEPTH_TOP]}
          allowDataOverflow
          width={0}
          ticks={leftTicks}
          interval={0}
          tickSize={0}
          tickMargin={0}
          tickLine={false}
          tick={depthLeft}
          axisLine={{ stroke: FRAME, strokeWidth: 3 }}
        />
        <YAxis
          yAxisId="depthRight"
          type="number"
          orientation="right"
          domain={[-40, DEPTH_TOP]}
          allowDataOverflow
          width={0}
          ticks={rightTicks}
          interval={0}
          tickSize={0}
          tickMargin={0}
          tickLine={false}
          tick={depthRight}
          axisLine={{ stroke: FRAME, strokeWidth: 3 }}
        />
      </ComposedChart>
    </div>
  )
}

function ColorBar({ left, top, bottom, bins, palette, domain, ticks, tickLabels, barSize }: any) {
  const rows = bins.map((mid: number) => ({ mid, full: 1 }))
  const height = bottom - top + 90
  const label = (p: any) => {
    const text = tickLabels ? tickLabels[ticks.indexOf(p.payload.value)] : minus(p.payload.value)
    return (
      <g>
        <line x1={p.x} x2={p.x} y1={p.y} y2={p.y - 30} stroke="#444444" strokeWidth={2} />
        <text x={p.x} y={p.y + 64} textAnchor="middle" fontSize={46} fontFamily={FONT} fill={INK}>{text}</text>
      </g>
    )
  }
  return (
    <div style={{ position: 'absolute', left: 0, top: top - 5 }}>
      <ComposedChart width={FIG_W} height={height} data={rows} margin={{ left, right: FIG_W - PLOT_RIGHT, top: 5, bottom: height - (bottom - top) - 5 }}>
        <Bar dataKey="full" barSize={barSize} isAnimationActive={false}>
          {rows.map((_: any, i: number) => (
            <Cell key={i} fill={palette[i]} stroke={palette[i]} strokeWidth={1} />
          ))}
        </Bar>
        <XAxis
          type="number"
          dataKey="mid"
          domain={domain}
          allowDataOverflow
          height={0}
          ticks={ticks}
          interval={0}
          tickSize={0}
          tickMargin={0}
          tickLine={false}
          tick={label}
          axisLine={{ stroke: FRAME, strokeWidth: 3 }}
        />
        <YAxis type="number" domain={[0, 1]} width={0} tick={false} tickLine={false} axisLine={{ stroke: FRAME, strokeWidth: 3 }} />
      </ComposedChart>
    </div>
  )
}

function Title({ x, y, children }: any) {
  return (
    <div style={{ position: 'absolute', left: x - 900, top: y - 32, width: 1800, textAlign: 'center', font: `bold 50px/64px ${FONT}`, color: INK, whiteSpace: 'nowrap' }}>
      {children}
    </div>
  )
}

function PanelLetter({ x, y, children }: any) {
  return (
    <div style={{ position: 'absolute', left: x - 100, top: y - 70, width: 200, textAlign: 'center', font: `104px/140px "Open Sans", sans-serif`, color: '#111111' }}>
      {children}
    </div>
  )
}

export default function App() {
  return (
    <div style={{ position: 'absolute', left: 0, top: 0, width: FIG_W, height: FIG_H, background: '#ffffff', overflow: 'hidden' }}>
      <Section plotLeft={67} plotTop={168} plotBottom={886} layers={salinityLayers} palette={AMP} kmTicks leftTicks={[-10, -20, -30]} rightTicks={[-10, -20, -30, -40]} />
      <ColorBar left={68} top={947} bottom={1003} bins={salinityBins} palette={AMP} domain={[0, 2]} ticks={[0, 1, 2]} barSize={298} />
      <Section plotLeft={72} plotTop={1168} plotBottom={1960} layers={temperatureLayers} palette={AMP} kmTicks={false} leftTicks={[0, -10, -20, -30]} rightTicks={DEPTH_TICKS} />
      <ColorBar left={74} top={2021} bottom={2077} bins={temperatureBins} palette={AMP} domain={[0, 1]} ticks={[0, 0.5, 1]} tickLabels={['0', '0.5', '1.0']} barSize={297.4} />
      <Section plotLeft={71} plotTop={2229} plotBottom={3023} layers={buoyancyLayers} palette={BALANCE} kmTicks={false} leftTicks={[0, -10, -20, -30]} rightTicks={DEPTH_TICKS} />
      <ColorBar left={72} top={3083} bottom={3137} bins={buoyancyBins} palette={BALANCE} domain={[-15, 15]} ticks={[-15, -10, -5, 0, 5, 10, 15]} barSize={99.2} />

      <Title x={1557} y={52}>Distance from T (km)</Title>
      <Title x={1558} y={1112}>Salinity</Title>
      <Title x={1558} y={2190}>Water Temperature (°C)</Title>
      <Title x={1558} y={3248}>Brunt−Väisälä frequency (cycles/h)</Title>
      <div style={{ position: 'absolute', left: 3205 - 200, top: 1565 - 32, width: 400, textAlign: 'center', font: `bold 50px/64px ${FONT}`, color: INK, transform: 'rotate(-90deg)' }}>
        Depth (m)
      </div>
      <PanelLetter x={2966} y={810}>a)</PanelLetter>
      <PanelLetter x={2970} y={1866}>b)</PanelLetter>
      <PanelLetter x={2962} y={2930}>c)</PanelLetter>
    </div>
  )
}
